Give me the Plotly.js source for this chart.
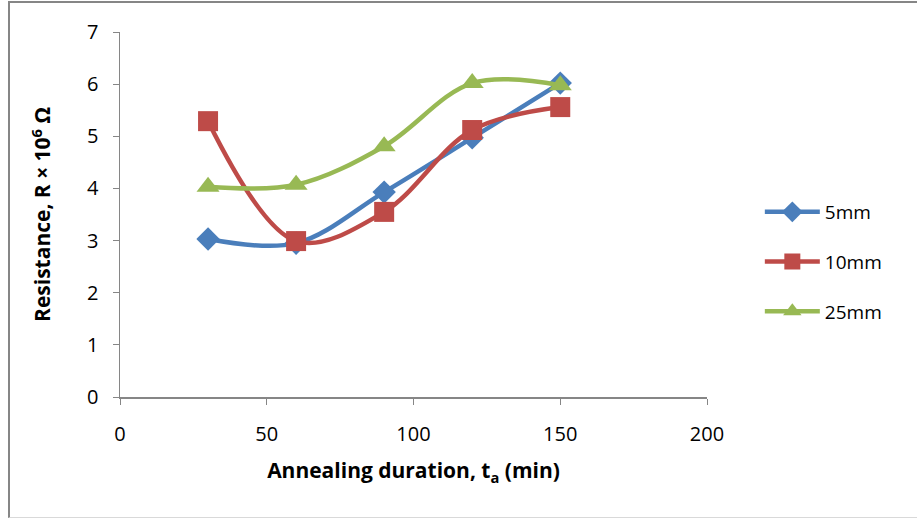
<!DOCTYPE html>
<html>
<head>
<meta charset="utf-8">
<script src="https://cdn.plot.ly/plotly-3.0.1.min.js"></script>
<style>
html,body{margin:0;padding:0;background:#fff;}
#frame{position:absolute;left:8px;top:1px;width:920px;height:517px;border-left:2px solid #868686;border-top:2px solid #868686;border-bottom:1px solid #d9d9d9;box-sizing:border-box;}
#chart{position:absolute;left:0;top:0;width:917px;height:520px;}
</style>
</head>
<body>
<div id="frame"></div>
<div id="chart"></div>
<script>
const durations = [30, 60, 90, 120, 150];
const seriesNames = ["5mm", "10mm", "25mm"];
const r5mm = [3.03, 2.95, 3.93, 4.97, 6.02];
const r10mm = [5.29, 2.99, 3.55, 5.12, 5.56];
const r25mm = [4.03, 4.07, 4.81, 6.02, 5.98];

const colors = ["#4A7EBB", "#BE4B48", "#98B954"];
const symbols = ["diamond", "square", "triangle-up"];
const sizes = [18, 20, 20];
const vals = [r5mm, r10mm, r25mm];

const traces = vals.map((v, i) => ({
  x: durations, y: v, name: seriesNames[i], type: "scatter", mode: "lines+markers",
  line: {color: colors[i], width: 4.5, shape: "spline", smoothing: 1},
  marker: {color: colors[i], symbol: symbols[i], size: sizes[i]},
  legendgroup: "g" + i
}));

const font = "Open Sans, Noto Sans, sans-serif";
const layout = {
  width: 917, height: 520,
  margin: {l: 120, r: 210, t: 32, b: 123},
  paper_bgcolor: "rgba(0,0,0,0)", plot_bgcolor: "rgba(0,0,0,0)",
  font: {family: font, size: 19, color: "#000"},
  showlegend: true,
  legend: {x: 1.09, y: 0.37, xanchor: "left", yanchor: "middle", tracegroupgap: 22,
           font: {size: 19, family: font}, itemwidth: 55},
  xaxis: {range: [0, 200], tickvals: [0, 50, 100, 150, 200], showgrid: false, zeroline: false,
          showline: true, linecolor: "#868686", linewidth: 1.5, ticks: "outside", ticklen: 6,
          tickcolor: "#868686", tickfont: {size: 20}, ticklabelstandoff: 12,
          title: {text: "<b>Annealing duration, t<sub>a</sub> (min)</b>", font: {size: 21}, standoff: 18}},
  yaxis: {range: [0, 7], tickvals: [0, 1, 2, 3, 4, 5, 6, 7], showgrid: false, zeroline: false,
          showline: true, linecolor: "#868686", linewidth: 1.5, ticks: "outside", ticklen: 6,
          tickcolor: "#868686", tickfont: {size: 20}, ticklabelstandoff: 10,
          title: {text: "<b>Resistance, R × 10<sup>6</sup> Ω</b>", font: {size: 21}, standoff: 30}}
};
Plotly.newPlot("chart", traces, layout, {displayModeBar: false, staticPlot: true});
</script>
</body>
</html>
